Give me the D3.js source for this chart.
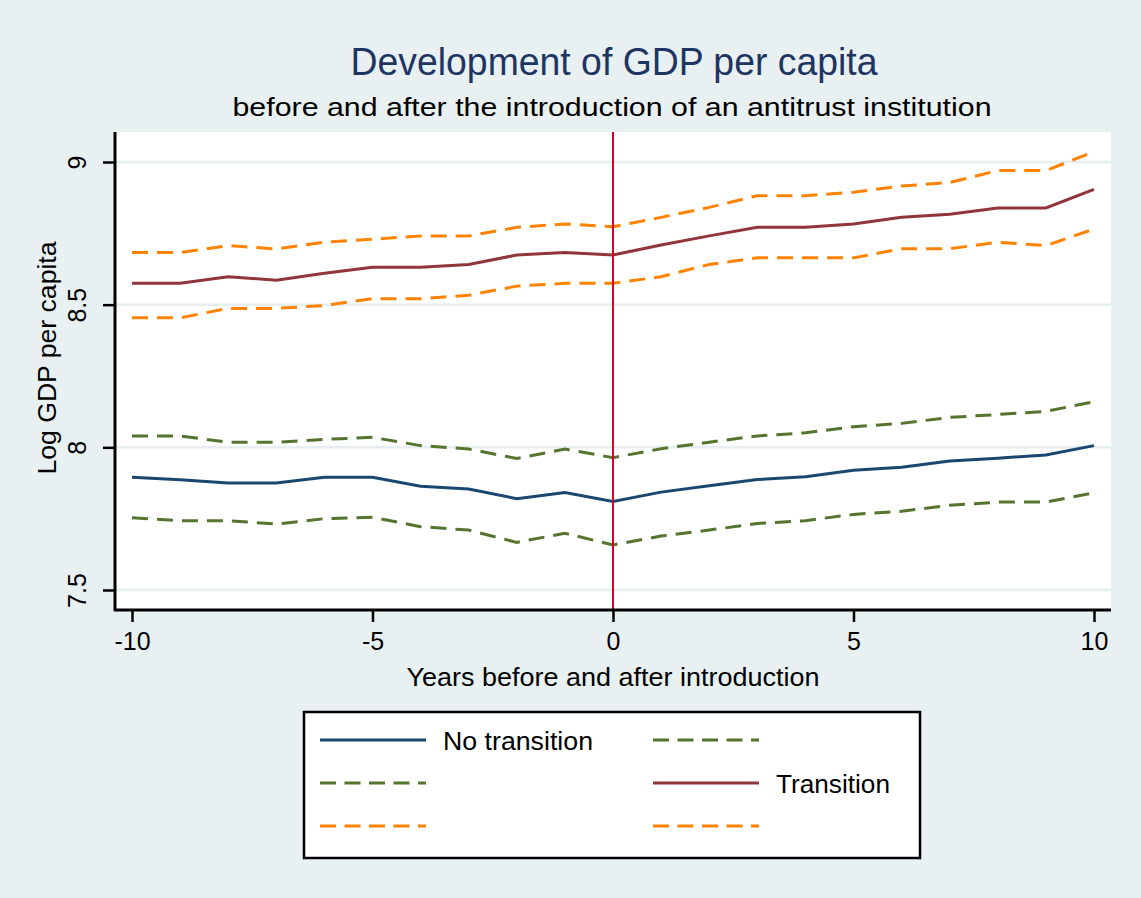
<!DOCTYPE html>
<html>
<head>
<style>
  body { margin: 0; background: #e8f0f2; }
  text { font-family: "Liberation Sans", Arial, Helvetica, sans-serif; }
</style>
<script src="https://d3js.org/d3.v7.min.js"></script>
</head>
<body>
<script>
const years = [-10, -9, -8, -7, -6, -5, -4, -3, -2, -1, 0, 1, 2, 3, 4, 5, 6, 7, 8, 9, 10];

const noTransition   = [7.895, 7.886, 7.875, 7.875, 7.895, 7.895, 7.864, 7.854, 7.820, 7.842, 7.810, 7.843, 7.865, 7.887, 7.897, 7.920, 7.930, 7.952, 7.962, 7.973, 8.006];
const noTransitionHi = [8.040, 8.040, 8.018, 8.018, 8.028, 8.035, 8.006, 7.994, 7.961, 7.994, 7.964, 7.995, 8.018, 8.040, 8.051, 8.072, 8.084, 8.105, 8.115, 8.126, 8.160];
const noTransitionLo = [7.753, 7.743, 7.743, 7.731, 7.750, 7.755, 7.722, 7.710, 7.667, 7.699, 7.658, 7.689, 7.710, 7.733, 7.743, 7.765, 7.776, 7.797, 7.808, 7.808, 7.841];
const transition     = [8.575, 8.575, 8.598, 8.586, 8.610, 8.631, 8.631, 8.641, 8.674, 8.683, 8.674, 8.709, 8.741, 8.771, 8.771, 8.783, 8.806, 8.817, 8.839, 8.839, 8.904];
const transitionHi   = [8.683, 8.683, 8.707, 8.695, 8.719, 8.729, 8.741, 8.741, 8.771, 8.783, 8.773, 8.806, 8.841, 8.882, 8.882, 8.894, 8.916, 8.928, 8.970, 8.970, 9.036];
const transitionLo   = [8.454, 8.454, 8.487, 8.487, 8.497, 8.521, 8.521, 8.533, 8.565, 8.575, 8.575, 8.598, 8.641, 8.664, 8.664, 8.664, 8.696, 8.696, 8.719, 8.707, 8.765];

const xTicks = [-10, -5, 0, 5, 10];
const yTicks = [7.5, 8, 8.5, 9];
const introYear = 0;

const w = 1141;
const h = 898;

const navy = "#1a476f", maroon = "#90353b", green = "#55752f", orange = "#ff8200";

// series in Stata legend order (2 columns)
const series = [
  { values: noTransition,   color: navy,   dash: null,   label: "No transition" },
  { values: noTransitionHi, color: green,  dash: "16,9", label: "" },
  { values: noTransitionLo, color: green,  dash: "16,9", label: "" },
  { values: transition,     color: maroon, dash: null,   label: "Transition" },
  { values: transitionLo,   color: orange, dash: "16,9", label: "" },
  { values: transitionHi,   color: orange, dash: "16,9", label: "" }
];

const xScale = d3.scaleLinear().domain([-10, 10]).range([132, 1094]);
const yScale = d3.scaleLinear().domain([7.5, 9]).range([590, 162]);

const svg = d3.select("body").append("svg")
  .attr("width", w)
  .attr("height", h);

svg.append("rect").attr("width", w).attr("height", h).attr("fill", "#e8f0f2");

// plot region
svg.append("rect")
  .attr("x", 115).attr("y", 132)
  .attr("width", 1111 - 115).attr("height", 610 - 132)
  .attr("fill", "#fff");

// grid
svg.append("g").selectAll("line")
  .data(yTicks)
  .enter().append("line")
  .attr("x1", 116).attr("x2", 1111)
  .attr("y1", d => yScale(d)).attr("y2", d => yScale(d))
  .attr("stroke", "#e6eef0")
  .attr("stroke-width", 2.5);

// series lines
const line = d3.line()
  .x((d, i) => xScale(years[i]))
  .y(d => yScale(d));

svg.append("g").selectAll("path")
  .data(series)
  .enter().append("path")
  .attr("d", d => line(d.values))
  .attr("fill", "none")
  .attr("stroke", d => d.color)
  .attr("stroke-width", 3)
  .attr("stroke-dasharray", d => d.dash);

// introduction line
svg.append("line")
  .attr("x1", xScale(introYear)).attr("x2", xScale(introYear))
  .attr("y1", 132).attr("y2", 610)
  .attr("stroke", "#d9002a")
  .attr("stroke-width", 2);

// axes
const xAxis = d3.axisBottom(xScale).tickValues(xTicks).tickSize(12).tickFormat(d3.format("d"));
const gx = svg.append("g")
  .attr("transform", "translate(0,610)")
  .call(xAxis);
gx.select(".domain").attr("d", "M114,0H1111").attr("stroke", "#000").attr("stroke-width", 3);
gx.selectAll(".tick line").attr("stroke", "#000").attr("stroke-width", 2.5);
gx.selectAll(".tick text")
  .attr("y", 40).attr("dy", null)
  .attr("font-size", 25).attr("fill", "#000")
  .text(d => d < 0 ? "-" + Math.abs(d) : d);

const yAxis = d3.axisLeft(yScale).tickValues(yTicks).tickSize(12).tickFormat(d3.format("~g"));
const gy = svg.append("g")
  .attr("transform", "translate(115,0)")
  .call(yAxis);
gy.select(".domain").attr("d", "M0,132V611").attr("stroke", "#000").attr("stroke-width", 3);
gy.selectAll(".tick line").attr("stroke", "#000").attr("stroke-width", 2.5);
gy.selectAll(".tick text")
  .attr("x", null).attr("dy", null)
  .attr("transform", "translate(-29,0) rotate(-90)")
  .attr("text-anchor", "middle")
  .attr("font-size", 25).attr("fill", "#000");

// titles
svg.append("text")
  .attr("x", 614).attr("y", 75)
  .attr("text-anchor", "middle")
  .attr("font-size", 38)
  .attr("fill", "#1e3561")
  .attr("textLength", 527).attr("lengthAdjust", "spacingAndGlyphs")
  .text("Development of GDP per capita");

svg.append("text")
  .attr("x", 612).attr("y", 116)
  .attr("text-anchor", "middle")
  .attr("font-size", 26)
  .attr("fill", "#000")
  .attr("textLength", 759).attr("lengthAdjust", "spacingAndGlyphs")
  .text("before and after the introduction of an antitrust institution");

svg.append("text")
  .attr("x", 613).attr("y", 686)
  .attr("text-anchor", "middle")
  .attr("font-size", 25)
  .attr("fill", "#000")
  .attr("textLength", 413).attr("lengthAdjust", "spacingAndGlyphs")
  .text("Years before and after introduction");

svg.append("text")
  .attr("transform", "translate(56,358) rotate(-90)")
  .attr("text-anchor", "middle")
  .attr("font-size", 25)
  .attr("fill", "#000")
  .attr("textLength", 233).attr("lengthAdjust", "spacingAndGlyphs")
  .text("Log GDP per capita");

// legend
const legend = svg.append("g");
legend.append("rect")
  .attr("x", 304).attr("y", 712)
  .attr("width", 616).attr("height", 146)
  .attr("fill", "#fff")
  .attr("stroke", "#000")
  .attr("stroke-width", 2.5);

const keys = legend.selectAll("g.key")
  .data(series)
  .enter().append("g")
  .attr("class", "key")
  .attr("transform", (d, i) => "translate(" + (i % 2 === 0 ? 320 : 653) + "," + (740 + Math.floor(i / 2) * 43) + ")");

keys.append("line")
  .attr("x1", 0).attr("x2", 106)
  .attr("stroke", d => d.color)
  .attr("stroke-width", 3)
  .attr("stroke-dasharray", d => d.dash ? "16,8.5" : null);

keys.append("text")
  .attr("x", 123)
  .attr("y", 10)
  .attr("font-size", 25)
  .attr("fill", "#000")
  .attr("textLength", d => d.label === "No transition" ? 150 : 114)
  .attr("lengthAdjust", "spacingAndGlyphs")
  .text(d => d.label);
</script>
</body>
</html>
